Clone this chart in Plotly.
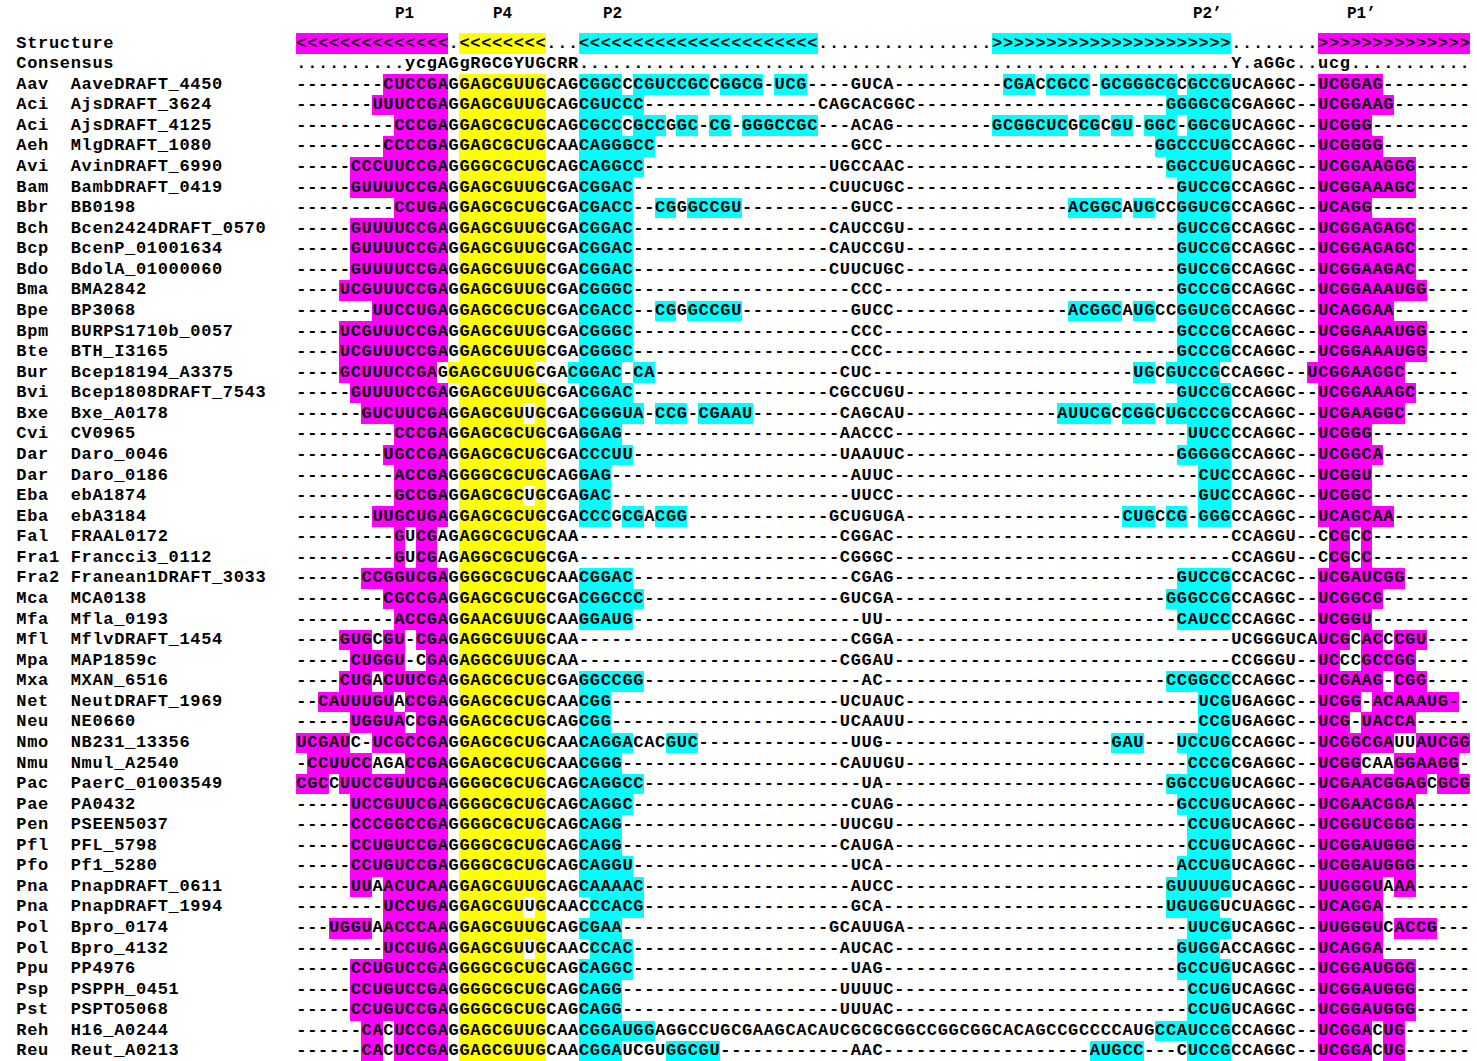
import plotly.graph_objects as go

# Secondary-structure line and consensus of the alignment.
# Marked runs: {...} = P1/P1' helix, [...] = P4 helix, (...) = P2/P2' helix.
STRUCTURE = "{<<<<<<<<<<<<<<}.[<<<<<<<<]...(<<<<<<<<<<<<<<<<<<<<<<)................(>>>>>>>>>>>>>>>>>>>>>>)........{>>>>>>>>>>>>>>}"
CONSENSUS = "..........ycgAGgRGCGYUGCRR............................................................Y.aGGc..ucg..........."

SPECIES = ["Aav", "Aci", "Aci", "Aeh", "Avi", "Bam", "Bbr", "Bch", "Bcp", "Bdo",
           "Bma", "Bpe", "Bpm", "Bte", "Bur", "Bvi", "Bxe", "Cvi", "Dar", "Dar",
           "Eba", "Eba", "Fal", "Fra1", "Fra2", "Mca", "Mfa", "Mfl", "Mpa", "Mxa",
           "Net", "Neu", "Nmo", "Nmu", "Pac", "Pae", "Pen", "Pfl", "Pfo", "Pna",
           "Pna", "Pol", "Pol", "Ppu", "Psp", "Pst", "Reh", "Reu"]

GENES = ["AaveDRAFT_4450", "AjsDRAFT_3624", "AjsDRAFT_4125", "MlgDRAFT_1080",
         "AvinDRAFT_6990", "BambDRAFT_0419", "BB0198", "Bcen2424DRAFT_0570",
         "BcenP_01001634", "BdolA_01000060", "BMA2842", "BP3068",
         "BURPS1710b_0057", "BTH_I3165", "Bcep18194_A3375", "Bcep1808DRAFT_7543",
         "Bxe_A0178", "CV0965", "Daro_0046", "Daro_0186", "ebA1874", "ebA3184",
         "FRAAL0172", "Francci3_0112", "Franean1DRAFT_3033", "MCA0138",
         "Mfla_0193", "MflvDRAFT_1454", "MAP1859c", "MXAN_6516",
         "NeutDRAFT_1969", "NE0660", "NB231_13356", "Nmul_A2540",
         "PaerC_01003549", "PA0432", "PSEEN5037", "PFL_5798", "Pf1_5280",
         "PnapDRAFT_0611", "PnapDRAFT_1994", "Bpro_0174", "Bpro_4132", "PP4976",
         "PSPPH_0451", "PSPTO5068", "H16_A0244", "Reut_A0213"]

ALIGNED = [
    "--------{CUCCGA}G[GAGCGUUG]CAG(CGGC)C(CGUCCGC)C(GGCG)-(UCG)----GUCA----------(CGA)C(CGCC)-(GCGGGCG)C(GCCG)UCAGGC--{UCGGAG}--------",
    "-------{UUUCCGA}G[GAGCGUUG]CAG(CGUCCC)----------------CAGCACGGC-----------------------(GGGGCG)CGAGGC--{UCGGAAG}-------",
    "---------{CCCGA}G[GAGCGCUG]CAG(CGCC)C(GCC)G(GC)-(CG)-(GGGCCGC)---ACAG---------(GCGGCUC)G(CG)C(GU)-(GGC)-(GGCG)UCAGGC--{UCGGG}---------",
    "--------{CCCCGA}G[GAGCGCUG]CAA(CAGGGCC)------------------GCC-------------------------(GGCCCUG)CCAGGC--{UCGGGG}--------",
    "-----{CCCUUCCGA}G[GGGCGCUG]CAG(CAGGCC)-----------------UGCCAAC------------------------(GGCCUG)UCAGGC--{UCGGAAGGG}-----",
    "-----{GUUUUCCGA}G[GAGCGUUG]CGA(CGGAC)------------------CUUCUGC-------------------------(GUCCG)CCAGGC--{UCGGAAAGC}-----",
    "---------{CCUGA}G[GAGCGCUG]CGA(CGACC)--(CG)G(GCCGU)----------GUCC----------------(ACGGC)A(UG)CC(GGUCG)CCAGGC--{UCAGG}---------",
    "-----{GUUUUCCGA}G[GAGCGUUG]CGA(CGGAC)------------------CAUCCGU-------------------------(GUCCG)CCAGGC--{UCGGAGAGC}-----",
    "-----{GUUUUCCGA}G[GAGCGUUG]CGA(CGGAC)------------------CAUCCGU-------------------------(GUCCG)CCAGGC--{UCGGAGAGC}-----",
    "-----{GUUUUCCGA}G[GAGCGUUG]CGA(CGGAC)------------------CUUCUGC-------------------------(GUCCG)CCAGGC--{UCGGAAGAC}-----",
    "----{UCGUUUCCGA}G[GAGCGUUG]CGA(CGGGC)--------------------CCC---------------------------(GCCCG)CCAGGC--{UCGGAAAUGG}----",
    "-------{UUCCUGA}G[GAGCGCUG]CGA(CGACC)--(CG)G(GCCGU)----------GUCC----------------(ACGGC)A(UG)CC(GGUCG)CCAGGC--{UCAGGAA}-------",
    "----{UCGUUUCCGA}G[GAGCGUUG]CGA(CGGGC)--------------------CCC---------------------------(GCCCG)CCAGGC--{UCGGAAAUGG}----",
    "----{UCGUUUCCGA}G[GAGCGUUG]CGA(CGGGC)--------------------CCC---------------------------(GCCCG)CCAGGC--{UCGGAAAUGG}----",
    "----{GCUUUCCGA}G[GAGCGUUG]CGA(CGGAC)-(CA)-----------------CUC------------------------(UG)C(GUCCG)CCAGGC--{UCGGAAGGC}-----",
    "-----{GUUUUCCGA}G[GAGCGUUG]CGA(CGGAC)------------------CGCCUGU-------------------------(GUCCG)CCAGGC--{UCGGAAAGC}-----",
    "------{GUCUUCGA}G[GAGCGU]U[G]CGA(CGGGUA)-(CCG)-(CGAAU)--------CAGCAU--------------(AUUCG)C(CGG)C(UGCCCG)CCAGGC--{UCGAAGGC}------",
    "---------{CCCGA}G[GAGCGCUG]CGA(GGAG)--------------------AACCC---------------------------(UUCC)CCAGGC--{UCGGG}---------",
    "--------{UGCCGA}G[GAGCGCUG]CGA(CCCUU)-------------------UAAUUC-------------------------(GGGGG)CCAGGC--{UCGGCA}--------",
    "---------{ACCGA}G[GGGCGCUG]CAG(GAG)----------------------AUUC----------------------------(CUC)CCAGGC--{UCGGU}---------",
    "---------{GCCGA}G[GAGCGC]U[G]CGA(GAC)----------------------UUCC----------------------------(GUC)CCAGGC--{UCGGC}---------",
    "-------{UUGCUGA}G[GAGCGCUG]CGA(CCC)G(CG)A(CGG)-------------GCUGUGA--------------------(CUG)C(CG)-(GGG)CCAGGC--{UCAGCAA}-------",
    "---------{G}U{CG}AG[AGGCGCUG]CAA------------------------CGGAC-------------------------------CCAGGU--C{CG}C{C}---------",
    "---------{G}U{CG}AG[AGGCGCUG]CGA------------------------CGGGC-------------------------------CCAGGU--C{CG}C{C}---------",
    "------{CCGGUCGA}G[GGGCGCUG]CAA(CGGAC)--------------------CGAG--------------------------(GUCCG)CCACGC--{UCGAUCGG}------",
    "--------{CGCCGA}G[GAGCGCUG]CGA(CGGCCC)------------------GUCGA-------------------------(GGGCCG)CCAGGC--{UCGGCG}--------",
    "---------{ACCGA}G[GAACGUUG]CAA(GGAUG)---------------------UU---------------------------(CAUCC)CCAGGC--{UCGGU}---------",
    "----{GUG}C{GU}-{CGA}G[AGGCGUUG]CAA-------------------------CGGA-------------------------------UCGGGUCA{UCG}C{AC}C{CGU}----",
    "-----{CUGGU}-C{GA}G[AGGCGUUG]CAA------------------------CGGAU-------------------------------CCGGGU--{UC}CC{GCCGG}-----",
    "----{CUG}A{CUUCGA}G[GAGCGCUG]CGA(GGCCGG)--------------------AC--------------------------(CCGGCC)CCAGGC--{UCGAAG}-{CGG}----",
    "--{CAUUUGU}A{CCGA}G[GAGCGCUG]CAA(CGG)---------------------UCUAUC---------------------------(UCG)UGAGGC--{UCGG}-{ACAAAUG-}-",
    "-----{UGGUA}C{CGA}G[GAGCGCUG]CAG(CGG)---------------------UCAAUU---------------------------(CCG)UGAGGC--{UCG}-{UACCA}-----",
    "{UCGAU}C-{UCGCCGA}G[GAGCGCUG]CAA(CAGGA)CAC(GUC)--------------UUG---------------------(GAU)---(UCCUG)CCAGGC--{UCGGCGA}UU{AUCGG}",
    "-{CCUUCC}AGA{CCGA}G[GAGCGCUG]CAA(CGGG)--------------------CAUUGU--------------------------(CCCG)CGAGGC--{UCGG}CAA{GGAAGG}-",
    "{CGC}C{UUCCGUUCGA}G[GGGCGCUG]CAG(CAGGCC)--------------------UA--------------------------(GGCCUG)UCAGGC--{UCGAACGGAG}C{GCG}",
    "-----{UCCGUUCGA}G[GGGCGCUG]CAG(CAGGC)--------------------CUAG--------------------------(GCCUG)UCAGGC--{UCGAACGGA}-----",
    "-----{CCCGGCCGA}G[GGGCGCUG]CAG(CAGG)--------------------UUCGU---------------------------(CCUG)UCAGGC--{UCGGUCGGG}-----",
    "-----{CCUGUCCGA}G[GGGCGCUG]CAG(CAGG)--------------------CAUGA---------------------------(CCUG)UCAGGC--{UCGGAUGGG}-----",
    "-----{CCUGUCCGA}G[GGGCGCUG]CAG(CAGGU)--------------------UCA---------------------------(ACCUG)UCAGGC--{UCGGAUGGG}-----",
    "-----{UU}A{ACUCAA}G[GAGCGUUG]CAG(CAAAAC)-------------------AUCC-------------------------(GUUUUG)UCAGGC--{UUGGGU}A{AA}-----",
    "--------{UCCUGA}G[GAGCGU]U[G]CAAC(CCACG)-------------------GCA--------------------------(UGUGG)UCUAGGC--{UCAGGA}--------",
    "---{UGGU}A{ACCCAA}G[GAGCGUUG]CAG(CGAA)-------------------GCAUUGA--------------------------(UUCG)UCAGGC--{UUGGGU}C{ACCG}---",
    "--------{UCCUGA}G[GAGCGU]U[G]CAAC(CCAC)-------------------AUCAC--------------------------(GUGG)ACCAGGC--{UCAGGA}--------",
    "-----{CCUGUCCGA}G[GGGCGCUG]CAG(CAGGC)--------------------UAG---------------------------(GCCUG)UCAGGC--{UCGGAUGGG}-----",
    "-----{CCUGUCCGA}G[GGGCGCUG]CAG(CAGG)--------------------UUUUC---------------------------(CCUG)UCAGGC--{UCGGAUGGG}-----",
    "-----{CCUGUCCGA}G[GGGCGCUG]CAG(CAGG)--------------------UUUAC---------------------------(CCUG)UCAGGC--{UCGGAUGGG}-----",
    "------{CA}C{UCCGA}G[GAGCGUUG]CAA(CGGAUGG)AGGCCUGCGAAGCACAUCGCGCGGCCGGCGGCACAGCCGCCCCAUG(CCAUCCG)CCAGGC--{UCGGA}C{UG}------",
    "------{CA}C{UCCGA}G[GAGCGUUG]CAA(CGGA)UCGU(GGCGU)------------AAC-------------------(AUGCC)---C(UCCG)CCAGGC--{UCGGA}C{UG}------",
]

HELIX_LABELS = ["P1", "P4", "P2", "P2\u2019", "P1\u2019"]
HELIX_LABEL_POS = [10.0, 19.0, 29.1, 83.9, 98.0]

# helix code -> colour (P1/P1' magenta, P4 yellow, P2/P2' cyan)
HELIX_OPEN = {"{": 1, "[": 2, "(": 3}
HELIX_CLOSE = "}])"
COLOURS = ["#ff00ff", "#ffff00", "#00ffff"]

# page geometry (pixels)
W, H = 1477, 1061
CELL_W = 10.87        # width of one alignment column
ROW_H = 20.57         # height of one row
ALN_LEFT = 296        # left edge of column 0
ROW0_Y = 43.3         # centre of the first row
NAME_LEFT = 16        # left edge of the name column
LABEL_Y = 13.5        # centre of the helix labels
FONT = "Courier New, Liberation Mono, monospace"


def split_marks(marked):
    """Return the residues of a marked row and the helix code of each one."""
    letters, helix = [], []
    current = None
    for ch in marked:
        if ch in HELIX_OPEN:
            current = HELIX_OPEN[ch]
        elif ch in HELIX_CLOSE:
            current = None
        else:
            letters.append(ch)
            helix.append(current)
    return letters, helix


labels = ["Structure", "Consensus"] + [f"{s:<5}{g}" for s, g in zip(SPECIES, GENES)]
rows = [split_marks(STRUCTURE), split_marks(CONSENSUS)] + [split_marks(a) for a in ALIGNED]
ncols = max(len(r[0]) for r in rows)

# background cells coloured by helix
z = [helix + [None] * (ncols - len(helix)) for _, helix in rows]

heat = go.Heatmap(
    z=z,
    x=[c + 0.5 for c in range(ncols)],
    y=list(range(len(rows))),
    zmin=1, zmax=3,
    colorscale=[[0.0, COLOURS[0]], [0.33, COLOURS[0]],
                [0.34, COLOURS[1]], [0.66, COLOURS[1]],
                [0.67, COLOURS[2]], [1.0, COLOURS[2]]],
    showscale=False, hoverinfo="skip", xgap=0, ygap=0,
)

# alignment letters, one per cell
xs, ys, ts = [], [], []
for r, (letters, _) in enumerate(rows):
    for c, ch in enumerate(letters):
        xs.append(c + 0.5)
        ys.append(r)
        ts.append(ch)

# row names, monospaced on the same column width
name_x0 = (NAME_LEFT - ALN_LEFT) / CELL_W
for r, lab in enumerate(labels):
    for k, ch in enumerate(lab):
        if ch != " ":
            xs.append(name_x0 + k + 0.5)
            ys.append(r)
            ts.append(ch)

letters_trace = go.Scatter(
    x=xs, y=ys, text=ts, mode="text",
    textposition="middle center",
    textfont=dict(family=FONT, size=17, color="#000000", weight="bold"),
    hoverinfo="skip",
)

fig = go.Figure([heat, letters_trace])

label_y = (LABEL_Y - ROW0_Y) / ROW_H
for name, xpos in zip(HELIX_LABELS, HELIX_LABEL_POS):
    fig.add_annotation(x=xpos, y=label_y, text=name, showarrow=False,
                       xref="x", yref="y",
                       font=dict(family=FONT, size=16, color="#000000", weight="bold"))

fig.update_layout(
    width=W, height=H,
    margin=dict(l=0, r=0, t=0, b=0),
    paper_bgcolor="white", plot_bgcolor="white",
    showlegend=False, hovermode=False,
    xaxis=dict(range=[-ALN_LEFT / CELL_W, (W - ALN_LEFT) / CELL_W],
               visible=False, fixedrange=True),
    yaxis=dict(range=[(H - ROW0_Y) / ROW_H, -ROW0_Y / ROW_H],
               visible=False, fixedrange=True),
)

fig.write_html("out.html")
